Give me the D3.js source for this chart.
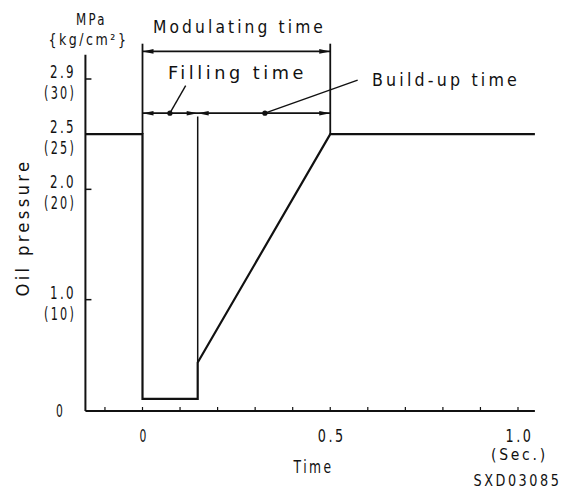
<!DOCTYPE html>
<html><head><meta charset="utf-8">
<script src="https://cdn.jsdelivr.net/npm/d3@7"></script>
<style>
body{margin:0;background:#fff;}
text{font-family:"DejaVu Sans Condensed","Liberation Sans Narrow","DejaVu Sans",sans-serif;fill:#111;letter-spacing:0.18em;font-weight:500;}
</style></head>
<body><svg id="c" width="575" height="490"></svg>
<script>
// ---- data ----
const waveTime = [-0.152, 0, 0, 0.147, 0.147, 0.5, 1.045];
const wavePressure = [25, 25, 1, 1, 4.3, 25, 25];      // kg/cm²
const xMinorTicks = [-0.1, 0, 0.1, 0.2, 0.3, 0.4, 0.5, 0.6, 0.7, 0.8, 0.9, 1.0];
const xLabelValues = [0, 0.5, 1.0];
const xLabelTexts = ["0", "0.5", "1.0"];
const yTickValues = [10, 20, 30];
const yLabelValues = [10, 20, 25, 30];
const yLabelMPa = ["1.0", "2.0", "2.5", "2.9"];
const yLabelKg = ["(10)", "(20)", "(25)", "(30)"];
const fillingEnd = 0.147, buildEnd = 0.5;

const svg = d3.select("#c");
const x = d3.scaleLinear().domain([0, 1]).range([142.5, 518]);
const y = d3.scaleLinear().domain([0, 30]).range([410, 79]);
const xMin = -0.152, xMax = 1.045, yTop = 32.2;

// axes
const axisY = 411;
svg.append("line").attr("x1", x(xMin)).attr("x2", x(xMax)).attr("y1", axisY).attr("y2", axisY)
  .attr("stroke", "#111").attr("stroke-width", 2);
svg.append("line").attr("x1", x(xMin)).attr("x2", x(xMin)).attr("y1", y(yTop)).attr("y2", axisY)
  .attr("stroke", "#111").attr("stroke-width", 2);
svg.selectAll(".xt").data(xMinorTicks).enter().append("line")
  .attr("x1", d => x(d)).attr("x2", d => x(d)).attr("y1", axisY).attr("y2", axisY - 4)
  .attr("stroke", "#111").attr("stroke-width", 1.2);
svg.selectAll(".yt").data(yTickValues).enter().append("line")
  .attr("x1", x(xMin)).attr("x2", x(xMin) + 6).attr("y1", d => y(d)).attr("y2", d => y(d))
  .attr("stroke", "#111").attr("stroke-width", 1.5);

// labels
const lbl = (t, px, py, size, anchor, len) => {
  const sp = 0.18 * size; // compensate trailing letter-spacing
  const shift = anchor === "end" ? sp : anchor === "middle" ? sp / 2 : 0;
  const e = svg.append("text").attr("x", px + shift).attr("y", py).attr("font-size", size)
    .attr("text-anchor", anchor || "start").text(t);
  if (len) e.attr("textLength", len).attr("lengthAdjust", "spacingAndGlyphs");
  return e;
};
yLabelValues.forEach((v, i) => {
  lbl(yLabelMPa[i], 73, y(v) - 1, 17, "end", 26);
  lbl(yLabelKg[i], 73, y(v) + 20, 17, "end", 32);
});
lbl("0", 59, y(0) + 7, 17, "middle", 9);
xLabelValues.forEach((v, i) => lbl(xLabelTexts[i], x(v), 442, 17, "middle", i === 0 ? 9 : 28));
lbl("(Sec.)", x(1.0), 460, 16, "middle", 57);
lbl("Time", 312, 473, 18, "middle", 40);
lbl("SXD03085", 516, 486, 16, "middle", 88);
lbl("MPa", 90, 25, 16, "middle", 31);
lbl("{kg/cm²}", 87, 45, 16, "middle", 80);
svg.append("text").attr("transform", `translate(29,${226 + 1.6}) rotate(-90)`).attr("font-size", 18)
  .attr("text-anchor", "middle").attr("textLength", 138).attr("lengthAdjust", "spacingAndGlyphs")
  .text("Oil pressure");

// waveform
const pts = waveTime.map((t, i) => [x(t), y(wavePressure[i])]);
svg.append("path").attr("d", d3.line()(pts)).attr("fill", "none")
  .attr("stroke", "#111").attr("stroke-width", 2.2).attr("stroke-linejoin", "miter");

// extension lines
const ext = (t, p1, p2, w) => svg.append("line").attr("x1", x(t)).attr("x2", x(t))
  .attr("y1", y(p1)).attr("y2", y(p2)).attr("stroke", "#111").attr("stroke-width", w);
ext(0, 33.2, 25, 1.8);
ext(buildEnd, 33.2, 25, 1.8);
ext(fillingEnd, 26.6, 4.3, 1.5);

// arrowheads
const arrow = (px, py, dir) => {
  const L = 11, W = 2.3;
  svg.append("path").attr("d", `M${px},${py}L${px - dir * L},${py - W}L${px - dir * L},${py + W}Z`)
    .attr("fill", "#111");
};
const dimLine = (t1, t2, p) => {
  svg.append("line").attr("x1", x(t1)).attr("x2", x(t2)).attr("y1", y(p)).attr("y2", y(p))
    .attr("stroke", "#111").attr("stroke-width", 1.8);
};
const pMod = 32.5, pFill = 26.9;
dimLine(0, buildEnd, pMod);
arrow(x(0), y(pMod), -1); arrow(x(buildEnd), y(pMod), 1);
dimLine(0, buildEnd, pFill);
arrow(x(0), y(pFill), -1); arrow(x(fillingEnd), y(pFill), 1);
arrow(x(fillingEnd), y(pFill), -1); arrow(x(buildEnd), y(pFill), 1);

// leaders with dots
const leader = (t1, t2, p2) => {
  svg.append("line").attr("x1", x(t1)).attr("y1", y(pFill)).attr("x2", x(t2)).attr("y2", y(p2))
    .attr("stroke", "#111").attr("stroke-width", 1.4);
  svg.append("circle").attr("cx", x(t1)).attr("cy", y(pFill)).attr("r", 2.6).attr("fill", "#111");
};
leader(0.073, 0.115, 29.4);
leader(0.326, 0.573, 29.9);

// annotation text
lbl("Modulating time", 153, 33, 18, "start", 173);
lbl("Filling time", 168, 79, 18, "start", 139);
lbl("Build-up time", 372, 86, 18, "start", 148);
</script></body></html>
